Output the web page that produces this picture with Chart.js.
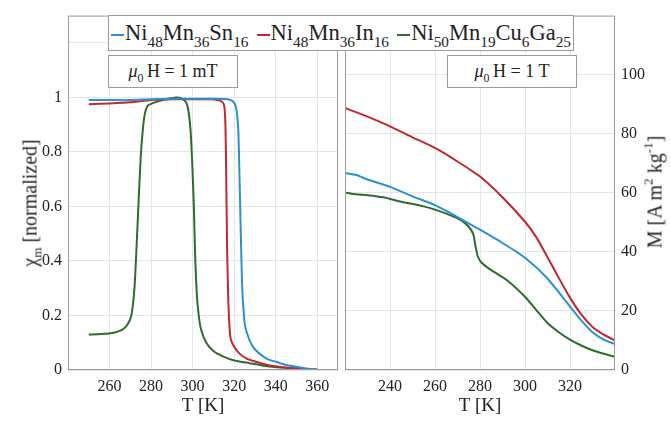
<!DOCTYPE html>
<html>
<head>
<meta charset="utf-8">
<script src="https://cdn.jsdelivr.net/npm/chart.js@4/dist/chart.umd.min.js"></script>
<style>
  body { margin: 0; background: #fff; font-family: "Liberation Serif", "Times New Roman", serif; }
  #wrap { position: relative; width: 671px; height: 421px; overflow: hidden; }
  canvas { position: absolute; top: 0; }
  .box { position: absolute; background: #fff; border: 1px solid #9a9a9a; color: #222; }
  .legend { left: 108px; top: 15px; width: 466px; height: 36px; font-size: 22.5px; display: flex;
            align-items: center; justify-content: space-between; padding: 0 2px; box-sizing: border-box; white-space: nowrap; }
  .legend .sw { display: inline-block; width: 13px; height: 2px; vertical-align: middle; margin-right: 1px; }
  .legend sub { font-size: 68%; vertical-align: -0.45em; line-height: 0; }
  .note sub, .ytitle sub { font-size: 66%; vertical-align: -0.4em; line-height: 0; }
  .ytitle sup { font-size: 66%; vertical-align: 0.7em; line-height: 0; }
  .note { top: 55px; height: 31px; font-size: 18px; display: flex; align-items: center; justify-content: center; }
  .ytitle { position: absolute; font-size: 20px; color: #222; white-space: nowrap; transform: translate(-50%, -50%) rotate(-90deg); }
</style>
</head>
<body>
<div id="wrap">
  <canvas id="left" width="340" height="421" style="left:0"></canvas>
  <canvas id="right" width="331" height="421" style="left:340px"></canvas>
  <div class="box note" style="left:108px; width:128px"><span><i>&mu;</i><sub>0</sub>&thinsp;H = 1 mT</span></div>
  <div class="box note" style="left:447px; width:128px"><span><i>&mu;</i><sub>0</sub>&thinsp;H = 1 T</span></div>
  <div class="box legend">
    <span><span class="sw" style="background:#2e8fcf"></span>Ni<sub>48</sub>Mn<sub>36</sub>Sn<sub>16</sub></span>
    <span><span class="sw" style="background:#c0272f"></span>Ni<sub>48</sub>Mn<sub>36</sub>In<sub>16</sub></span>
    <span><span class="sw" style="background:#2f6a2f"></span>Ni<sub>50</sub>Mn<sub>19</sub>Cu<sub>6</sub>Ga<sub>25</sub></span>
  </div>
  <div class="ytitle" style="left:30px; top:203px">&chi;<sub>m</sub> [normalized]</div>
  <div class="ytitle" style="left:655px; top:192px">M [A m<sup>2</sup> kg<sup>-1</sup>]</div>
</div>
<script>
'use strict';

// ── Data: left panel, normalized susceptibility at 1 mT ─────────────────────
const tSn   = [250, 260, 270, 280, 290, 300, 310, 317, 319.5, 321, 322, 322.6, 323.2, 323.8, 324.5, 325.3, 327.4, 329.5, 332.2, 336, 340.2, 345, 351.4, 356, 360];
const chiSn = [0.99, 0.99, 0.99, 0.993, 0.995, 0.995, 0.995, 0.993, 0.985, 0.96, 0.88, 0.7, 0.5, 0.32, 0.22, 0.16, 0.11, 0.08, 0.06, 0.04, 0.03, 0.018, 0.01, 0.004, 0.002];

const tIn   = [250, 260, 270, 280, 290, 300, 309, 312, 314, 315.2, 315.8, 316.2, 316.6, 317.2, 318.2, 320, 322.6, 326, 330.6, 336, 343.4, 350, 355, 360];
const chiIn = [0.975, 0.978, 0.982, 0.99, 0.993, 0.993, 0.993, 0.99, 0.985, 0.97, 0.9, 0.7, 0.45, 0.25, 0.12, 0.085, 0.06, 0.042, 0.03, 0.018, 0.01, 0.005, 0.003, 0.001];

const tCG   = [250, 256, 262, 266, 268.5, 270.5, 272, 273, 274, 275, 276, 277, 278.5, 283, 287, 292, 295, 297, 298, 299, 299.8, 300.6, 301.3, 302, 302.8, 304, 306.6, 310, 314.6, 320, 327.4, 335, 345, 355, 360];
const chiCG = [0.13, 0.132, 0.137, 0.147, 0.165, 0.2, 0.3, 0.45, 0.62, 0.78, 0.88, 0.94, 0.97, 0.985, 0.993, 1.0, 0.995, 0.98, 0.95, 0.88, 0.76, 0.6, 0.4, 0.28, 0.21, 0.15, 0.1, 0.07, 0.05, 0.035, 0.025, 0.015, 0.008, 0.004, 0.002];

// ── Data: right panel, magnetization at 1 T ─────────────────────────────────
const tMSn = [220, 225, 230, 240, 250, 260, 270, 280, 290, 300, 310, 320, 325, 330, 335, 340];
const mSn  = [66.7, 66, 64.5, 62, 58.8, 55.8, 51.8, 47.5, 43, 38, 31, 21.5, 16.8, 12.8, 10.3, 8.8];

const tMIn = [220, 230, 240, 250, 260, 270, 280, 290, 300, 305, 310, 315, 320, 325, 330, 335, 340];
const mIn  = [88.7, 85.8, 82.5, 78.8, 75.2, 70.6, 65.5, 58.5, 50.2, 45, 38.2, 31.2, 24.5, 18.8, 14.6, 12, 10];

const tMCG = [220, 225, 230, 237, 245, 255, 262, 268, 272, 275, 277, 278, 279, 280.5, 285, 292, 300, 305, 310, 315, 320, 325, 330, 335, 340];
const mCG  = [60.1, 59.5, 59.2, 58.5, 57, 55.4, 53.8, 52, 50.5, 48.5, 46, 42, 38.5, 36.5, 33.8, 30.4, 24.8, 20.3, 15.9, 12.8, 10.3, 8.3, 6.7, 5.5, 4.5];

// ── Ticks ───────────────────────────────────────────────────────────────────
const xTicksLeft  = [260, 280, 300, 320, 340, 360];
const yTicksLeft  = [0, 0.2, 0.4, 0.6, 0.8, 1, 1.2];
const xTicksRight = [240, 260, 280, 300, 320];
const yTicksRight = [0, 20, 40, 60, 80, 100];

const COL = { sn: '#2e8fcf', inn: '#c0272f', cg: '#2f6a2f' };
const FONT = '"Liberation Serif", "Times New Roman", serif';

function pts(xs, ys) { return xs.map((x, i) => ({ x, y: ys[i] })); }

function ds(xs, ys, color) {
  return { data: pts(xs, ys), borderColor: color, borderWidth: 2, pointRadius: 0, tension: 0.2, fill: false };
}

// frame around the plot area, like a matlab "box on"
const boxPlugin = {
  id: 'box',
  afterDraw(chart) {
    const a = chart.chartArea, c = chart.ctx;
    c.save();
    c.strokeStyle = '#9a9a9a';
    c.lineWidth = 1;
    c.strokeRect(a.left + 0.5, a.top + 0.5, a.right - a.left - 1, a.bottom - a.top - 1);
    c.restore();
  }
};

function axisX(min, max, ticks) {
  return {
    type: 'linear', min, max,
    afterBuildTicks: s => { s.ticks = ticks.map(v => ({ value: v })); },
    afterFit: s => { s.height = 51; },
    grid: { color: '#e6e6e6', drawTicks: false },
    border: { display: false },
    ticks: { color: '#222', font: { family: FONT, size: 16 }, padding: 7, maxRotation: 0 },
    title: { display: true, text: 'T [K]', color: '#222', font: { family: FONT, size: 19 }, padding: { top: 0 } },
  };
}

function axisY(min, max, ticks, pos, width, fmt) {
  return {
    type: 'linear', min, max, position: pos,
    afterBuildTicks: s => { s.ticks = ticks.map(v => ({ value: v })); },
    afterFit: s => { s.width = width; },
    grid: { color: '#e6e6e6', drawTicks: false },
    border: { display: false },
    ticks: { color: '#222', font: { family: FONT, size: 16 }, padding: 6, callback: fmt },
  };
}

const common = {
  responsive: false,
  animation: false,
  plugins: { legend: { display: false }, tooltip: { enabled: false } },
};

new Chart(document.getElementById('left'), {
  type: 'line',
  data: { datasets: [ds(tSn, chiSn, COL.sn), ds(tIn, chiIn, COL.inn), ds(tCG, chiCG, COL.cg)] },
  options: {
    ...common,
    layout: { padding: { top: 15, right: 2, left: 0, bottom: 0 } },
    scales: {
      x: axisX(240, 370, xTicksLeft),
      y: axisY(0, 1.3, yTicksLeft, 'left', 68, v => v > 1.05 ? '' : String(Math.round(v * 10) / 10)),
    },
  },
  plugins: [boxPlugin],
});

new Chart(document.getElementById('right'), {
  type: 'line',
  data: { datasets: [ds(tMSn, mSn, COL.sn), ds(tMIn, mIn, COL.inn), ds(tMCG, mCG, COL.cg)] },
  options: {
    ...common,
    layout: { padding: { top: 15, right: 0, left: 5, bottom: 0 } },
    scales: {
      x: axisX(220, 340, xTicksRight),
      y: axisY(0, 120, yTicksRight, 'right', 56, v => String(v)),
    },
  },
  plugins: [boxPlugin],
});
</script>
</body>
</html>
